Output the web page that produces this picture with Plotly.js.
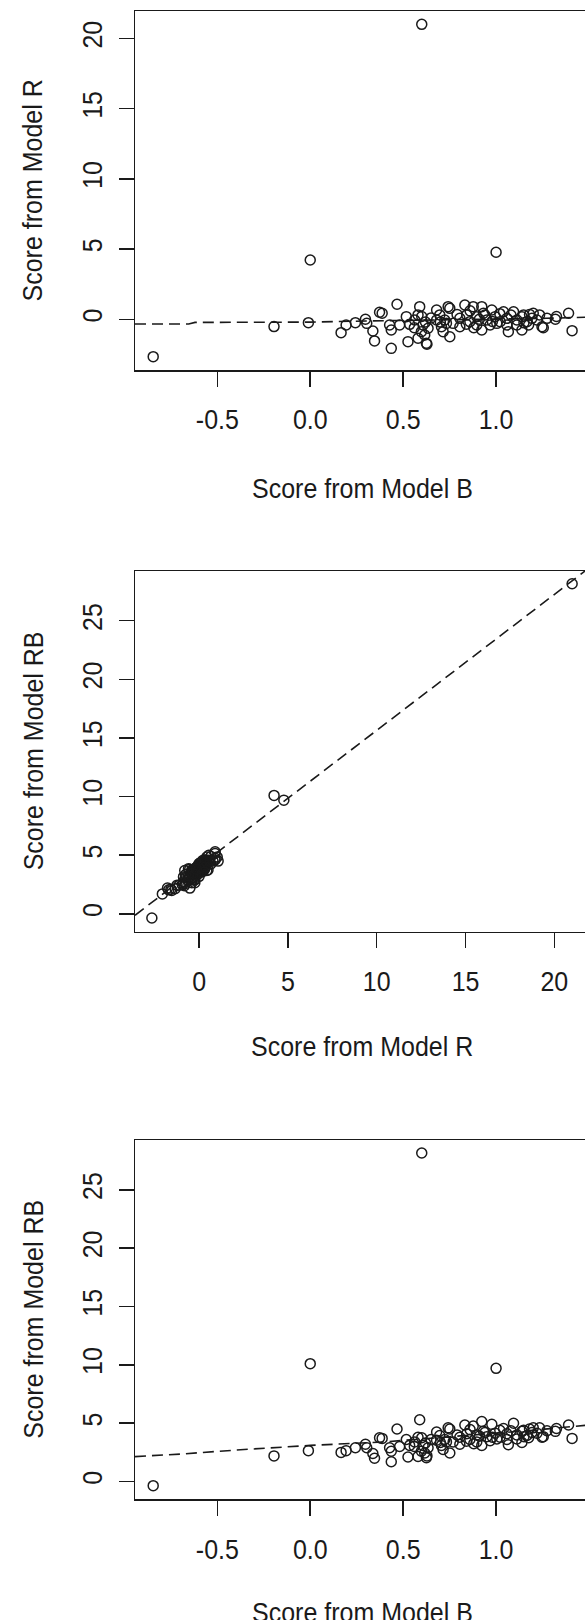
<!DOCTYPE html>
<html>
<head>
<meta charset="utf-8">
<script src="https://cdn.plot.ly/plotly-3.0.1.min.js"></script>
<style>
  html, body { margin: 0; padding: 0; background: #fff; overflow: hidden; width: 585px; height: 1620px; }
  #chart { width: 620px; height: 1620px; }
</style>
</head>
<body>
<div id="chart"></div>
<script>
// ---- data ----
const scoreB = [
  -0.845, -0.195, -0.01, 0.0, 1.0, 0.6, 0.166, 0.193, 0.243, 0.297,
  0.304, 0.337, 0.346, 0.373, 0.387, 0.427, 0.436, 0.436, 0.467, 0.481,
  0.517, 0.526, 0.535, 0.562, 0.58, 0.589, 0.58, 0.598, 0.607, 0.625,
  0.616, 0.634, 0.68, 0.68, 0.697, 0.706, 0.733, 0.742, 0.751, 0.832,
  0.877, 0.923, 0.977, 1.04, 1.094, 1.148, 1.2, 1.319, 1.39, 1.409,
  1.247, 1.139, 1.066, 0.923, 0.751, 0.715, 0.805, 0.859, 0.896, 0.95,
  0.995, 1.022, 1.058, 1.112, 1.166, 1.193, 1.22, 1.004, 0.896, 0.805,
  0.842, 1.112, 1.175, 0.724, 0.769, 0.932, 1.058, 0.968, 1.139, 1.274,
  0.628, 1.234, 1.325, 1.254, 0.56, 0.6, 0.62, 0.65, 0.86, 0.88,
  0.91, 0.94, 1.02, 1.08, 1.15, 1.18, 0.84, 0.79, 0.7, 0.98
];
const scoreR = [
  -2.66, -0.52, -0.24, 4.22, 4.77, 21.0, -0.95, -0.41, -0.24, 0.0,
  -0.29, -0.83, -1.54, 0.5, 0.43, -0.41, -0.76, -2.07, 1.07, -0.41,
  0.19, -1.59, -0.36, -0.05, 0.31, 0.9, -1.35, -0.88, -0.41, -1.71,
  -1.12, -0.64, -0.05, 0.66, 0.31, -0.53, -0.29, 0.9, 0.78, 1.02,
  0.9, 0.9, 0.66, 0.54, 0.54, 0.31, 0.43, 0.0, 0.43, -0.81,
  -0.53, -0.76, -0.88, -0.76, -1.24, -0.88, 0.07, -0.17, 0.19, -0.05,
  0.19, -0.17, 0.07, -0.05, -0.17, 0.07, -0.05, -0.29, -0.41, -0.53,
  0.31, -0.41, -0.41, -0.05, -0.29, 0.43, -0.41, -0.41, 0.19, 0.07,
  -1.78, 0.31, 0.2, -0.6, -0.6, 0.2, -0.2, 0.1, 0.6, -0.6,
  0.0, 0.3, 0.4, 0.3, -0.25, 0.35, -0.35, 0.35, -0.2, -0.15
];
const scoreRB = [
  -0.35, 2.2, 2.65, 10.1, 9.7, 28.15, 2.5, 2.65, 2.9, 3.2,
  2.9, 2.4, 2.0, 3.75, 3.7, 2.9, 2.6, 1.7, 4.5, 3.0,
  3.6, 2.1, 3.1, 3.4, 3.8, 5.3, 2.15, 2.6, 3.1, 2.05,
  2.45, 2.9, 3.55, 4.25, 3.95, 3.1, 3.4, 4.6, 4.5, 4.85,
  4.75, 5.15, 4.9, 4.55, 5.0, 4.4, 4.6, 4.3, 4.85, 3.7,
  3.8, 3.35, 3.15, 3.1, 2.45, 2.75, 3.8, 3.6, 4.0, 3.85,
  4.15, 3.8, 4.1, 4.0, 3.95, 4.2, 4.15, 3.65, 3.4, 3.2,
  4.1, 3.65, 3.75, 3.6, 3.4, 4.3, 3.6, 3.5, 4.3, 4.35,
  2.2, 4.6, 4.55, 3.85, 3.0, 3.75, 3.3, 3.6, 4.45, 3.25,
  3.9, 4.2, 4.4, 4.35, 3.85, 4.5, 3.45, 4.0, 3.35, 3.8
];

// dashed fitted lines
const fitRonB_x = [-0.943, -0.654, -0.62, 0.0, 0.3, 0.7, 1.0, 1.27, 1.5];
const fitRonB_y = [-0.33, -0.33, -0.22, -0.2, -0.12, -0.05, 0.0, 0.07, 0.15];
const fitRBonR_x = [-3.61, 21.95];
const fitRBonR_y = [-0.12, 29.5];
const fitRBonB_x = [-0.943, -0.7, -0.4, 0.0, 0.4, 0.8, 1.2, 1.5];
const fitRBonB_y = [2.14, 2.35, 2.7, 3.1, 3.4, 3.9, 4.4, 4.85];

// axis labels and ticks
const xTitles = ['Score from Model B', 'Score from Model R', 'Score from Model B'];
const yTitles = ['Score from Model R', 'Score from Model RB', 'Score from Model RB'];
const tickB = [-0.5, 0, 0.5, 1.0];
const tickBText = ['-0.5', '0.0', '0.5', '1.0'];
const tickR = [0, 5, 10, 15, 20];
const tickRB = [0, 5, 10, 15, 20, 25];

// ---- styling ----
const FONT = 'Liberation Sans, Arial, Helvetica, sans-serif';
const INK = '#1a1a1a';
const H = 1620;
const panelsPx = [[11, 370], [571, 931.7], [1140.3, 1499.3]];
const dom = p => [1 - p[1] / H, 1 - p[0] / H];
const marker = { symbol: 'circle-open', size: 10, color: INK, line: { width: 1.5, color: INK } };
const dashLine = { color: INK, width: 1.6, dash: '11px,6px' };

const traces = [
  { x: fitRonB_x, y: fitRonB_y, mode: 'lines', line: dashLine, xaxis: 'x', yaxis: 'y' },
  { x: scoreB, y: scoreR, mode: 'markers', marker: marker, xaxis: 'x', yaxis: 'y' },
  { x: fitRBonR_x, y: fitRBonR_y, mode: 'lines', line: dashLine, xaxis: 'x2', yaxis: 'y2' },
  { x: scoreR, y: scoreRB, mode: 'markers', marker: marker, xaxis: 'x2', yaxis: 'y2' },
  { x: fitRBonB_x, y: fitRBonB_y, mode: 'lines', line: dashLine, xaxis: 'x3', yaxis: 'y3' },
  { x: scoreB, y: scoreRB, mode: 'markers', marker: marker, xaxis: 'x3', yaxis: 'y3' }
];
function xa(range, tv, tt, anchor) {
  return { range, domain: [0, 1], anchor, tickmode: 'array', tickvals: tv, ticktext: tt,
    ticks: 'outside', ticklen: 15, tickwidth: 1.5, tickcolor: INK,
    showline: true, linewidth: 1.5, linecolor: INK, mirror: true,
    showgrid: false, zeroline: false, automargin: false, ticklabelstandoff: 12,
    tickfont: { family: FONT, size: 25, color: INK } };
}
function ya(range, tv, d, anchor) {
  return { range, domain: d, anchor, tickmode: 'array', tickvals: tv, ticktext: tv.map(String),
    tickangle: -90, ticks: 'outside', ticklen: 15, tickwidth: 1.5, tickcolor: INK,
    showline: true, linewidth: 1.5, linecolor: INK, mirror: true,
    showgrid: false, zeroline: false, automargin: false, ticklabelstandoff: 7,
    tickfont: { family: FONT, size: 25, color: INK } };
}
const rangeB = [-0.943, 1.50], rangeR = [-3.61, 21.95], rangeRB = [-1.52, 29.24];
const L = 135, R = 31, W = 620, plotW = W - L - R;
const xTitleY = [487.5, 1046, 1612];
const yTitleX = 33;
const annotations = [];
for (let i = 0; i < 3; i++) {
  annotations.push({ text: xTitles[i], xref: 'paper', yref: 'paper', x: 0.5, y: 1 - xTitleY[i] / H,
    xanchor: 'center', yanchor: 'middle', showarrow: false, font: { family: FONT, size: 25, color: INK } });
  const mid = (panelsPx[i][0] + panelsPx[i][1]) / 2;
  annotations.push({ text: yTitles[i], xref: 'paper', yref: 'paper', x: (yTitleX - L) / plotW, y: 1 - mid / H,
    xanchor: 'center', yanchor: 'middle', textangle: -90, showarrow: false, font: { family: FONT, size: 25, color: INK } });
}
const layout = { width: W, height: H, margin: { l: L, r: R, t: 0, b: 0, pad: 0 },
  paper_bgcolor: '#fff', plot_bgcolor: '#fff', showlegend: false, font: { family: FONT, color: INK },
  xaxis: xa(rangeB, tickB, tickBText, 'y'), yaxis: ya(rangeR, tickR, dom(panelsPx[0]), 'x'),
  xaxis2: xa(rangeR, tickR, tickR.map(String), 'y2'), yaxis2: ya(rangeRB, tickRB, dom(panelsPx[1]), 'x2'),
  xaxis3: xa(rangeB, tickB, tickBText, 'y3'), yaxis3: ya(rangeRB, tickRB, dom(panelsPx[2]), 'x3'),
  annotations };
Plotly.newPlot('chart', traces, layout, { displayModeBar: false, staticPlot: true }).then(gd => {
  // the reference glyphs are a little taller than Arial's proportions: stretch text vertically in its own frame
  const k = 1.1;
  gd.querySelectorAll('text').forEach(t => {
    try {
      const b = t.getBBox();
      if (!b.width) return;
      const cx = b.x + b.width / 2, cy = b.y + b.height / 2;
      const prev = t.getAttribute('transform') || '';
      t.setAttribute('transform', prev + ` translate(${cx},${cy}) scale(1,${k}) translate(${-cx},${-cy})`);
    } catch (e) {}
  });
});
</script>
</body>
</html>
